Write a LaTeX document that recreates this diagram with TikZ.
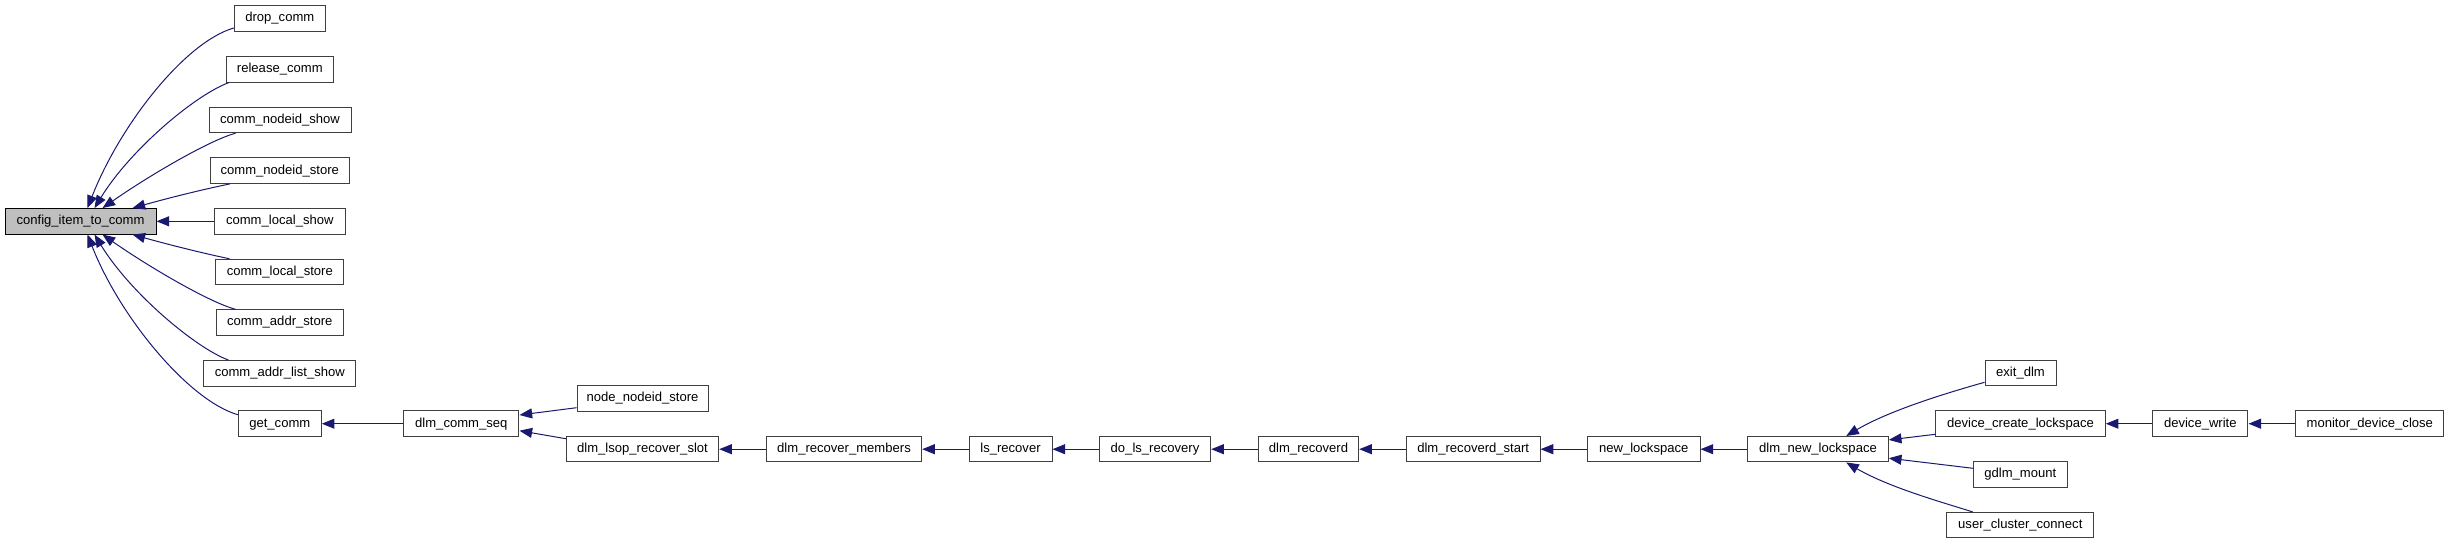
\documentclass[tikz,border=0pt]{standalone}
\usepackage{fontspec}
\setmainfont{Liberation Sans}
\usetikzlibrary{arrows.meta,calc}
\definecolor{midblue}{HTML}{191970}
\definecolor{boxgray}{HTML}{3F3F3F}
\definecolor{hlfill}{HTML}{BFBFBF}
\tikzset{
  fn/.style={draw=boxgray, line width=0.75pt, fill=white, minimum height=19.1pt,
    inner sep=0pt, font=\fontsize{9.8}{11}\selectfont, text height=7pt, text depth=2pt},
  callarrow/.style={draw=midblue, line width=0.75pt, -{Triangle[length=9.5pt,width=7.5pt]}},
}
\begin{document}
\begin{tikzpicture}[x=0.75pt,y=-0.75pt]
\useasboundingbox[fill=white] (0,0) rectangle (2449,544);
% left group
\node[fn, fill=hlfill, draw=black, minimum width=113.25pt] (config) at (80.5,221.3) {config\_item\_to\_comm};
\node[fn, minimum width=68.25pt]  (drop)     at (279.8,18.5)  {drop\_comm};
\node[fn, minimum width=80.25pt]  (release)  at (279.8,69.4)  {release\_comm};
\node[fn, minimum width=106.5pt]  (nshow)    at (280,120)     {comm\_nodeid\_show};
\node[fn, minimum width=104.25pt] (nstore)   at (279.8,170.7) {comm\_nodeid\_store};
\node[fn, minimum width=98.25pt]  (lshow)    at (279.8,221.3) {comm\_local\_show};
\node[fn, minimum width=96.2pt]   (lstore)   at (279.8,272)   {comm\_local\_store};
\node[fn, minimum width=95.25pt]  (astore)   at (279.8,322.5) {comm\_addr\_store};
\node[fn, minimum width=114.2pt]  (alist)    at (279.8,373.3) {comm\_addr\_list\_show};
\node[fn, minimum width=62.25pt]  (getcomm)  at (279.8,423.7) {get\_comm};
\node[fn, minimum width=86.5pt]   (seq)      at (461.3,423.7) {dlm\_comm\_seq};
\node[fn, minimum width=98.25pt]  (nnstore)  at (642.5,398.3) {node\_nodeid\_store};
\node[fn, minimum width=114.3pt]  (lsop)     at (642.5,449.2) {dlm\_lsop\_recover\_slot};
\node[fn, minimum width=116.55pt] (recmem)   at (844,449.2)   {dlm\_recover\_members};
\node[fn, minimum width=62.25pt]  (lsrec)    at (1010.5,449.2) {ls\_recover};
\node[fn, minimum width=83.55pt]  (dolsrec)  at (1155,449.2)  {do\_ls\_recovery};
\node[fn, minimum width=75.3pt]   (recd)     at (1308.5,449.2) {dlm\_recoverd};
\node[fn, minimum width=100.3pt]  (recdst)   at (1473.2,449.2) {dlm\_recoverd\_start};
\node[fn, minimum width=84.5pt]   (newls)    at (1643.7,449.2) {new\_lockspace};
\node[fn, minimum width=105.45pt] (dlmnewls) at (1818,449.2)  {dlm\_new\_lockspace};
\node[fn, minimum width=53.25pt]  (exitdlm)  at (2020.5,373.2) {exit\_dlm};
\node[fn, minimum width=127.2pt]  (devcreate) at (2020.5,423.7) {device\_create\_lockspace};
\node[fn, minimum width=70.1pt]   (gdlm)     at (2020.3,474.5) {gdlm\_mount};
\node[fn, minimum width=110pt]    (ucc)      at (2020.3,525.2) {user\_cluster\_connect};
\node[fn, minimum width=71.5pt]   (devwrite) at (2200.3,423.7) {device\_write};
\node[fn, minimum width=111.2pt]  (monclose) at (2369.8,423.7) {monitor\_device\_close};
% edges into config_item_to_comm
\draw[callarrow] ($(drop.west)+(0,9.5)$) .. controls (185,42) and (120,125) .. ($(config.north west)+(83,0)$);
\draw[callarrow] ($(release.south west)+(3,0)$) .. controls (195,95) and (130,150) .. ($(config.north west)+(90,0)$);
\draw[callarrow] ($(nshow.south west)+(27,0)$) .. controls (210,140) and (150,175) .. ($(config.north west)+(98,0)$);
\draw[callarrow] ($(nstore.south west)+(20,0)$) .. controls (200,190) and (165,199) .. ($(config.north west)+(128,0)$);
\draw[callarrow] (lshow.west) -- (config.east);
\draw[callarrow] ($(lstore.north west)+(14.3,0)$) .. controls (200,252.6) and (165,243.6) .. ($(config.south west)+(128,0)$);
\draw[callarrow] ($(astore.north west)+(19.7,0)$) .. controls (210,302.6) and (150,267.6) .. ($(config.south west)+(98,0)$);
\draw[callarrow] ($(alist.north west)+(25.3,0)$) .. controls (195,347.6) and (130,292.6) .. ($(config.south west)+(90,0)$);
\draw[callarrow] ($(getcomm.west)+(0,-9)$) .. controls (189,400.6) and (120,317.6) .. ($(config.south west)+(83,0)$);
% chain
\draw[callarrow] (seq.west) -- (getcomm.east);
\draw[callarrow] ($(nnstore.west)+(0,9.4)$) -- ($(seq.east)+(0,-8.7)$);
\draw[callarrow] ($(lsop.west)+(0,-10.5)$) -- ($(seq.east)+(0,7)$);
\draw[callarrow] (recmem.west) -- (lsop.east);
\draw[callarrow] (lsrec.west) -- (recmem.east);
\draw[callarrow] (dolsrec.west) -- (lsrec.east);
\draw[callarrow] (recd.west) -- (dolsrec.east);
\draw[callarrow] (recdst.west) -- (recd.east);
\draw[callarrow] (newls.west) -- (recdst.east);
\draw[callarrow] (dlmnewls.west) -- (newls.east);
% right group
\draw[callarrow] ($(exitdlm.west)+(0,9.1)$) .. controls (1950,392) and (1890,410) .. ($(dlmnewls.north west)+(99,0)$);
\draw[callarrow] ($(devcreate.west)+(0,10.6)$) -- ($(dlmnewls.east)+(0,-9.3)$);
\draw[callarrow] ($(gdlm.west)+(0,-6.2)$) -- ($(dlmnewls.east)+(0,9)$);
\draw[callarrow] ($(ucc.north west)+(26.3,0)$) .. controls (1945,503) and (1890,488) .. ($(dlmnewls.south west)+(99,0)$);
\draw[callarrow] (devwrite.west) -- (devcreate.east);
\draw[callarrow] (monclose.west) -- (devwrite.east);
\end{tikzpicture}
\end{document}
